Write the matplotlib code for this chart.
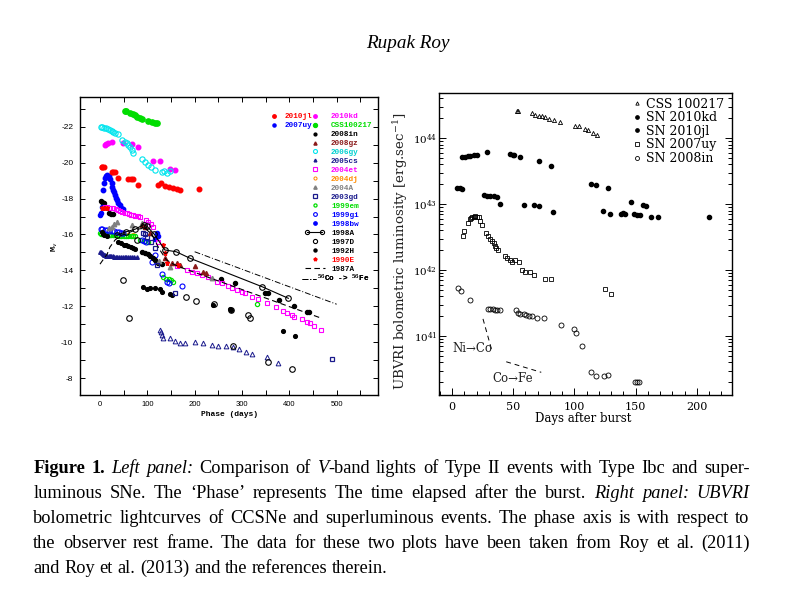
import numpy as np
import matplotlib
matplotlib.use('Agg')
import matplotlib.pyplot as plt
from matplotlib.legend_handler import HandlerLine2D

plt.rcParams['font.family'] = ['DejaVu Serif']
plt.rcParams['mathtext.fontset'] = 'dejavuserif'

# ---------------- LEFT PANEL DATA (phase [days], M_V) ----------------
css100217_d = [52.8, 55, 63.4, 69, 73.9, 78.9, 84.5, 88, 100.7, 109.2, 116.2, 119.8]
css100217_m = [-22.87, -22.85, -22.78, -22.71, -22.63, -22.56, -22.48, -22.43, -22.30, -22.24, -22.19, -22.22]

sn2006gy_d = [1.4, 4.5, 8.5, 13, 17.6, 21, 24.6, 28, 31.7, 38.7, 45.8, 52, 56.3, 60, 63.4, 66.9, 70.4,
              88, 95, 102, 108, 116.2, 130.3, 135, 140.8, 147.9]
sn2006gy_m = [-21.97, -21.96, -21.94, -21.90, -21.85, -21.82, -21.78, -21.72, -21.67, -21.58, -21.26, -21.15,
              -21.08, -20.98, -20.89, -20.70, -20.52, -20.20, -20.05, -19.87, -19.75, -19.59, -19.50, -19.55,
              -19.44, -19.55]

sn2010kd_d = [10.6, 13, 17.6, 26, 49.3, 66.9, 81, 112.7, 126.8, 147.9, 158.5]
sn2010kd_m = [-20.98, -21.02, -21.08, -21.17, -21.11, -21.02, -20.85, -20.11, -20.09, -19.63, -19.59]

sn2010jl_d = [3.5, 5, 8.5, 24.6, 28, 31.7, 38.7, 59.9, 65, 70.4, 81, 121.8, 128.2, 137.3, 145.8, 153.5,
              162, 169, 209.8]
sn2010jl_m = [-19.77, -19.75, -19.74, -19.50, -19.48, -19.46, -19.13, -19.09, -19.08, -19.07, -18.76, -18.76,
              -18.85, -18.70, -18.66, -18.61, -18.52, -18.48, -18.53]

sn1998bw_d = [5.6, 8.5, 10.6, 13, 15.5, 18, 21, 24.6, 26, 28.2, 30, 31.7, 34, 36.6, 39, 42.3, 45, 49.3]
sn1998bw_m = [-18.48, -18.85, -19.13, -19.25, -19.31, -19.25, -19.10, -18.85, -18.65, -18.48, -18.35,
              -18.20, -18.05, -17.92, -17.78, -17.64, -17.50, -17.40]

sn2007uy_d = [0, 1.4, 3.5, 116, 120, 123]
sn2007uy_m = [-17.09, -17.18, -17.55, -15.73, -16.07, -15.92]

sn2004et_d = [10.6, 14, 18, 22, 28.2, 33, 38, 42.3, 47, 52, 56.3, 61, 66, 70.4, 75, 80, 84.5, 97.2, 102,
              107, 111.3, 122, 163.4, 183, 193.7, 204, 215, 229, 246.5, 257, 271, 278, 289, 299, 306,
              320.5, 334.5, 352, 372, 387, 395.8, 405, 410, 426, 436.7, 443.7, 452, 466]
sn2004et_m = [-17.55, -17.52, -17.50, -17.48, -17.46, -17.40, -17.35, -17.31, -17.25, -17.20, -17.18,
              -17.14, -17.11, -17.09, -17.05, -17.02, -16.99, -16.81, -16.68, -16.59, -16.44, -15.60,
              -14.25, -14.03, -13.93, -13.84, -13.75, -13.65, -13.37, -13.32, -13.13, -13.05, -12.91,
              -12.82, -12.73, -12.54, -12.39, -12.21, -11.98, -11.74, -11.65, -11.52, -11.43, -11.28,
              -11.15, -11.06, -10.91, -10.69]

sn2008in_d = [3.5, 6, 9, 14, 39, 45, 50, 55, 60, 65, 70, 74, 91.6, 98.6, 105.6, 116.2, 126.8, 130.3,
              148, 151.5, 239.5, 274.7, 277, 387.4, 413]
sn2008in_m = [-16.16, -16.05, -15.95, -15.92, -15.60, -15.50, -15.42, -15.40, -15.35, -15.30, -15.25,
              -15.20, -13.10, -12.95, -13.00, -13.00, -12.95, -12.82, -12.69, -12.63, -12.08, -11.84,
              -11.80, -10.65, -10.37]

sn1992h_d = [1.4, 5, 8, 20, 24, 28, 88, 95, 101, 105, 112, 116, 123, 130, 255.6, 285, 348.6, 355, 379,
             410, 438, 441]
sn1992h_m = [-17.88, -17.80, -17.75, -17.20, -17.15, -17.12, -15.04, -14.95, -14.90, -14.80, -14.68,
             -14.60, -14.40, -14.35, -13.51, -13.29, -12.73, -12.72, -12.36, -12.02, -11.71, -11.68]

sn1998a_d = [35, 55, 75, 92, 99, 115, 137, 161, 190, 342, 398]
sn1998a_m = [-15.95, -16.15, -16.30, -16.55, -16.47, -16.00, -15.14, -15.04, -14.68, -13.10, -12.45]

sn1987a_d = [0, 8, 15, 21, 32, 45, 60, 80, 95, 110, 125, 140, 155, 176, 468]
sn1987a_m = [-14.35, -14.65, -14.90, -15.30, -15.70, -15.95, -16.10, -16.30, -16.35, -16.00, -15.20,
             -14.60, -14.35, -14.12, -11.34]

co56_d = [200, 500]
co56_m = [-15.04, -12.12]

sn1997d_d = [48, 62, 77.5, 182, 203, 240, 276, 280, 313, 316, 356, 405]
sn1997d_m = [-13.47, -11.37, -15.69, -12.54, -12.32, -12.12, -11.80, -9.80, -11.52, -11.35, -8.92, -8.52]

sn1990e_d = [5, 10, 15, 134, 137, 142, 165]
sn1990e_m = [-17.50, -17.48, -17.45, -15.41, -14.95, -14.43, -14.30]

sn2008gz_d = [88, 95, 105.6, 137.3, 151.5, 162, 169, 200.7, 218.3, 224]
sn2008gz_m = [-16.53, -16.44, -16.07, -14.68, -14.43, -14.40, -14.30, -14.25, -13.93, -13.84]

sn2005cs_plat_d = [0, 2, 4, 6, 8, 10, 12, 15, 18, 21, 24, 27, 30, 33, 36, 40, 44, 48, 52, 56, 60, 64,
                   68, 72, 77.5]
sn2005cs_plat_m = [-15.00, -15.02, -14.95, -14.90, -14.87, -14.85, -14.83, -14.81, -14.80, -14.79,
                   -14.78, -14.78, -14.77, -14.77, -14.77, -14.77, -14.77, -14.76, -14.76, -14.77,
                   -14.77, -14.77, -14.77, -14.76, -14.77]
sn2005cs_neb_d = [126.8, 128, 130, 134, 148, 158.5, 169, 179.6, 200.7, 218.3, 236, 250, 266, 280.4,
                  294.4, 308.5, 320.5, 353.6, 376.7]
sn2005cs_neb_m = [-10.69, -10.60, -10.41, -10.22, -10.22, -10.09, -9.98, -9.94, -10.03, -9.94, -9.85,
                  -9.79, -9.79, -9.76, -9.61, -9.48, -9.35, -9.17, -8.83]

sn2003gd_d = [91.6, 95, 98.6, 108, 116, 121, 158.5, 491]
sn2003gd_m = [-16.10, -16.00, -15.88, -15.60, -15.23, -14.30, -12.77, -9.06]

sn2004a_d = [20, 24.6, 30, 35, 67, 88, 125, 148, 236]
sn2004a_m = [-16.35, -16.44, -16.60, -16.71, -16.53, -16.62, -14.50, -14.21, -13.56]

sn1999em_d = [0, 3, 6, 9, 12, 15, 18, 21, 24, 27, 30, 35, 40, 45, 50, 55, 60, 65, 70, 75, 84.5, 95, 102,
              134, 140, 145, 150, 155, 331]
sn1999em_m = [-16.07, -16.05, -16.03, -16.02, -16.00, -15.99, -15.98, -15.97, -15.96, -15.95, -15.95,
              -15.95, -15.94, -15.93, -15.93, -15.93, -15.92, -15.92, -15.92, -15.90, -15.70, -15.65,
              -15.60, -13.62, -13.55, -13.50, -13.45, -13.37, -12.12]

sn1999gi_d = [1.4, 5, 10, 15, 20, 25, 30, 35, 40, 45, 49.3, 88, 93, 98, 109, 116, 130.3, 142, 146, 172.6]
sn1999gi_m = [-16.29, -16.28, -16.26, -16.25, -16.22, -16.20, -16.18, -16.15, -16.12, -16.10, -16.07,
              -15.69, -15.62, -15.56, -14.49, -14.86, -13.80, -13.37, -13.30, -13.13]

sn2004dj_d = [60, 70]
sn2004dj_m = [-15.98, -15.97]

# legend labels (left panel)
left_col1_labels = ['2010jl', '2007uy']
left_col2_labels = ['2010kd', 'CSS100217', '2008in', '2008gz', '2006gy', '2005cs', '2004et', '2004dj',
                    '2004A', '2003gd', '1999em', '1999gi', '1998bw', '1998A', '1997D', '1992H', '1990E',
                    '1987A']
co_label = r'$^{56}$Co -> $^{56}$Fe'
left_xticks = [0, 100, 200, 300, 400, 500]
left_yticks = [-22, -20, -18, -16, -14, -12, -10, -8]

# ---------------- RIGHT PANEL DATA (days, log10 L [erg/s]) ----------------
css_d = [52.8, 54.2, 65.3, 68, 70.7, 73.5, 76.2, 78.9, 83, 88.4, 100.7, 103.4, 108.8, 111.5, 115.1, 118.4]
css_logL = [44.41, 44.41, 44.38, 44.35, 44.34, 44.33, 44.32, 44.29, 44.28, 44.25, 44.18, 44.18, 44.14,
            44.12, 44.08, 44.05]
kd_d = [8.2, 10.9, 12.7, 14.9, 17.6, 20.4, 28.6, 47.6, 49.8, 50.9, 55.8, 71.3, 81, 113.5, 117.8, 127.8,
        146.1, 155.9, 158.4]
kd_logL = [43.71, 43.72, 43.73, 43.73, 43.74, 43.75, 43.79, 43.76, 43.75, 43.74, 43.71, 43.66, 43.58,
           43.30, 43.29, 43.25, 43.04, 42.99, 42.97]
jl_d = [4.1, 6.3, 8.2, 26.4, 28.6, 31.3, 34, 36.7, 39.4, 58.5, 66.6, 70.7, 82.1, 123.2, 128.7, 137.9,
        140.1, 141.5, 148.3, 151, 153.7, 162.7, 168.7, 210.3]
jl_logL = [43.25, 43.24, 43.23, 43.14, 43.13, 43.12, 43.12, 43.11, 43.00, 42.98, 42.98, 42.97, 42.88,
           42.89, 42.85, 42.85, 42.86, 42.85, 42.85, 42.83, 42.83, 42.81, 42.80, 42.81]
uy_d = [9, 10, 12.7, 14.4, 15.5, 16.6, 17.6, 19, 20.4, 21.7, 23.1, 24.7, 28, 29.1, 31.3, 32.7, 34, 35.3,
        36.2, 37.2, 43.5, 44.9, 47.6, 49, 51.7, 54.4, 57.1, 59.8, 63.9, 66.6, 75.6, 81.1, 124.6, 129.8]
uy_logL = [42.52, 42.59, 42.72, 42.77, 42.79, 42.80, 42.81, 42.82, 42.81, 42.80, 42.75, 42.68, 42.56,
           42.52, 42.47, 42.44, 42.41, 42.37, 42.33, 42.30, 42.21, 42.18, 42.16, 42.13, 42.16, 42.12,
           42.00, 41.97, 41.97, 41.93, 41.87, 41.87, 41.72, 41.64]
in_d = [4.6, 7.6, 14.4, 29.1, 31.3, 33.1, 35.3, 36.7, 38.9, 52.5, 53.6, 55.8, 58.5, 60.7, 62.6, 65.3,
        69.4, 74.8, 89.2, 99.3, 101.5, 106.6, 113.5, 117.8, 123.8, 127.3, 149.6, 151.5, 152.9]
in_logL = [41.73, 41.69, 41.55, 41.41, 41.41, 41.41, 41.40, 41.39, 41.40, 41.40, 41.35, 41.33, 41.33,
           41.32, 41.31, 41.30, 41.28, 41.27, 41.17, 41.11, 41.05, 40.85, 40.45, 40.39, 40.40, 40.41,
           40.31, 40.30, 40.30]
nico_d = [25.3, 32.7]
nico_logL = [41.26, 40.77]
cofe_d = [44.3, 72.9]
cofe_logL = [40.61, 40.45]
right_labels = ['CSS 100217', 'SN 2010kd', 'SN 2010jl', 'SN 2007uy', 'SN 2008in']
right_xticks = [0, 50, 100, 150, 200]
right_yticks_exp = [41, 42, 43, 44]

# ---------------- FIGURE ----------------
W, H = 789, 590
fig = plt.figure(figsize=(W / 100, H / 100), dpi=100)


def fx(px):
    return px / W


def fy(py):
    return 1 - py / H


axL = fig.add_axes([fx(80.3), fy(395), (378.3 - 80.3) / W, (395 - 97) / H])
axR = fig.add_axes([fx(439.3), fy(395), (732.3 - 439.3) / W, (395 - 92.7) / H])

RED, BLUE, MAG, GRN, CYA = '#ff0000', '#0000ff', '#ff00ff', '#00dd00', '#00e5ee'
NAVY, BRN, ORG, GRY = '#1a1a8c', '#8b1a1a', '#ff8c00', '#808080'


def pts(ax, d, m, **kw):
    return ax.plot(d, m, ls='none', **kw)[0]


L = {}
L['2004dj'] = pts(axL, sn2004dj_d, sn2004dj_m, marker='o', mfc='none', mec=ORG, ms=3, mew=0.7)
L['2005cs'] = pts(axL, sn2005cs_plat_d, sn2005cs_plat_m, marker='^', color=NAVY, ms=2.6)
pts(axL, sn2005cs_neb_d, sn2005cs_neb_m, marker='^', mfc='none', mec=NAVY, ms=3.4, mew=0.7)
L['1999em'] = pts(axL, sn1999em_d, sn1999em_m, marker='o', color=GRN, mfc='none', ms=3.0, mew=0.9)
L['1999gi'] = pts(axL, sn1999gi_d, sn1999gi_m, marker='o', mfc='none', mec=BLUE, ms=3.6, mew=0.8)
L['2008in'] = pts(axL, sn2008in_d, sn2008in_m, marker='o', color='k', ms=2.7)
L['1992H'] = pts(axL, sn1992h_d, sn1992h_m, marker='o', color='k', ms=2.9)
L['1998bw'] = pts(axL, sn1998bw_d, sn1998bw_m, marker='o', color=BLUE, ms=3.2)
L['2007uy'] = pts(axL, sn2007uy_d, sn2007uy_m, marker='o', color=BLUE, ms=3.0)
L['2004et'] = pts(axL, sn2004et_d, sn2004et_m, marker='s', mfc='none', mec=MAG, ms=3.4, mew=0.8)
L['2010jl'] = pts(axL, sn2010jl_d, sn2010jl_m, marker='o', color=RED, ms=3.3)
L['2010kd'] = pts(axL, sn2010kd_d, sn2010kd_m, marker='o', color=MAG, ms=3.3)
L['2006gy'] = pts(axL, sn2006gy_d, sn2006gy_m, marker='o', mfc='none', mec=CYA, ms=3.8, mew=0.8)
L['CSS100217'] = pts(axL, css100217_d, css100217_m, marker='o', color=GRN, ms=3.8)
L['2004A'] = pts(axL, sn2004a_d, sn2004a_m, marker='^', color=GRY, ms=3.2)
L['2003gd'] = pts(axL, sn2003gd_d, sn2003gd_m, marker='s', mfc='none', mec=NAVY, ms=3.4, mew=0.9)
L['2008gz'] = pts(axL, sn2008gz_d, sn2008gz_m, marker='^', color=BRN, ms=3.0)
L['1990E'] = pts(axL, sn1990e_d, sn1990e_m, marker='*', color=RED, ms=3.6)
L['1997D'] = pts(axL, sn1997d_d, sn1997d_m, marker='o', mfc='none', mec='k', ms=4.0, mew=0.8)
L['1998A'] = axL.plot(sn1998a_d, sn1998a_m, '-', color='k', lw=0.8, marker='o', mfc='none', mec='k',
                      ms=4.0, mew=0.8)[0]
L['1987A'] = axL.plot(sn1987a_d, sn1987a_m, color='k', lw=0.8, dashes=(5, 3))[0]
L['co'] = axL.plot(co56_d, co56_m, color='k', lw=0.7, dashes=(6, 2, 1, 2))[0]

axL.set_xlim(-41.6, 588)
axL.set_ylim(-7.07, -23.65)
axL.set_xticks(left_xticks)
axL.set_xticklabels([str(v) for v in left_xticks], fontfamily='Liberation Sans', fontsize=5.5)
axL.set_xticks(np.arange(-0, 600, 50), minor=True)
axL.set_yticks(left_yticks)
axL.set_yticklabels([str(v) for v in left_yticks], fontfamily='Liberation Sans', fontsize=6)
axL.set_yticks(np.arange(-23, -7, 1), minor=True)
axL.tick_params(which='both', direction='in', top=True, right=True, length=3.6, width=0.7)
axL.tick_params(axis='x', pad=4.0)
axL.tick_params(axis='y', pad=5.0)
for s in axL.spines.values():
    s.set_linewidth(1.0)
axL.set_xlabel('Phase (days)', fontfamily='Liberation Mono', fontweight='bold', fontsize=5.8)
axL.xaxis.set_label_coords(0.5, -0.065)
axL.xaxis.label.set_va('center')
axL.set_ylabel(r'M$_v$', fontfamily='Liberation Mono', fontweight='bold', fontsize=6)
axL.yaxis.set_label_coords(-0.085, 0.497)
axL.yaxis.label.set_va('center')


class RightMarker(HandlerLine2D):
    def get_xdata(self, legend, xdescent, ydescent, width, height, fontsize):
        xdata = np.array([-xdescent, -xdescent + width])
        xm = np.array([-xdescent + width - 0.3 * fontsize])
        return xdata, xm


lprop = {'family': 'Liberation Mono', 'weight': 'bold', 'size': 5.5}
legend_colors = {'2010jl': RED, '2007uy': BLUE, '2010kd': MAG, 'CSS100217': GRN, '2008in': 'k',
                 '2008gz': BRN, '2006gy': '#00d0d0', '2005cs': NAVY, '2004et': MAG, '2004dj': ORG,
                 '2004A': GRY, '2003gd': NAVY, '1999em': GRN, '1999gi': BLUE, '1998bw': BLUE,
                 '1998A': 'k', '1997D': 'k', '1992H': 'k', '1990E': RED, '1987A': 'k'}


def ax_x(px):
    return (px - 80.3) / 298.0


def ax_y(py):
    return (395 - py) / 298.0


def make_leg(labels, anchor, hl, hp, extra_map=None):
    hm = {matplotlib.lines.Line2D: RightMarker()}
    if extra_map:
        hm.update(extra_map)
    leg = axL.legend([L[k] for k in labels], labels, loc='upper left', bbox_to_anchor=anchor,
                     bbox_transform=axL.transAxes, frameon=False, prop=lprop, handlelength=hl,
                     handletextpad=hp, labelspacing=0.21, borderaxespad=0, borderpad=0,
                     numpoints=1, markerscale=0.75, handler_map=hm)
    for t, k in zip(leg.get_texts(), labels):
        t.set_color(legend_colors.get(k, 'k'))
    axL.add_artist(leg)
    return leg


fs_px = 5.5 * 100 / 72
make_leg(left_col1_labels, (ax_x(284.3 - 1.85 * fs_px), ax_y(113.0)), 1.0, 0.85)
make_leg(left_col2_labels, (ax_x(331 - 3.45 * fs_px), ax_y(113.0)), 2.6, 0.85,
         {L['1998A']: HandlerLine2D(numpoints=2)})
legc = axL.legend([L['co']], [co_label], loc='upper left', bbox_to_anchor=(ax_x(301.7), ax_y(273.2)),
                  bbox_transform=axL.transAxes, frameon=False, prop=lprop, handlelength=1.85,
                  handletextpad=0.2, borderaxespad=0, borderpad=0)
axL.add_artist(legc)

# ---------------- RIGHT PANEL ----------------
R = {}
R['CSS 100217'] = axR.plot(css_d, 10 ** np.array(css_logL), ls='none', marker='^', mfc='none', mec='k',
                           ms=3.0, mew=0.6)[0]
R['SN 2010kd'] = axR.plot(kd_d, 10 ** np.array(kd_logL), ls='none', marker='o', color='k', ms=3.0)[0]
R['SN 2010jl'] = axR.plot(jl_d, 10 ** np.array(jl_logL), ls='none', marker='o', color='k', ms=3.0)[0]
R['SN 2007uy'] = axR.plot(uy_d, 10 ** np.array(uy_logL), ls='none', marker='s', mfc='none', mec='k',
                          ms=3.0, mew=0.6)[0]
R['SN 2008in'] = axR.plot(in_d, 10 ** np.array(in_logL), ls='none', marker='o', mfc='none', mec='k',
                          ms=3.6, mew=0.6)[0]
axR.plot(nico_d, 10 ** np.array(nico_logL), color='k', lw=0.7, dashes=(5, 4))
axR.plot(cofe_d, 10 ** np.array(cofe_logL), color='k', lw=0.7, dashes=(5, 4))
axR.text(0.3, 10 ** 40.81, 'Ni\u2192Co', ha='left', va='center', fontsize=8.5, color='#222222')
axR.text(49.5, 10 ** 40.35, 'Co\u2192Fe', ha='center', va='center', fontsize=8.5, color='#222222')

axR.set_yscale('log')
axR.set_xlim(-10.4, 229)
axR.set_ylim(10 ** 40.106, 10 ** 44.69)
axR.set_xticks(right_xticks)
axR.set_xticklabels([str(v) for v in right_xticks], fontsize=8)
axR.set_xticks(np.arange(-10, 230, 10), minor=True)
axR.set_yticks([10.0 ** e for e in right_yticks_exp])
axR.set_yticklabels([r'10$^{%d}$' % e for e in right_yticks_exp], fontsize=7.5)
axR.set_yticks([k * 10.0 ** e for e in range(40, 45) for k in range(2, 10)
                if 10 ** 40.106 < k * 10.0 ** e < 10 ** 44.69], minor=True)
axR.tick_params(which='both', direction='in', top=False, right=True, width=0.7)
axR.tick_params(which='major', length=5.0)
axR.tick_params(which='minor', length=2.8, labelleft=False)
axR.tick_params(axis='x', pad=5)
axR.tick_params(axis='y', pad=1.5)
for s in axR.spines.values():
    s.set_linewidth(1.0)
axR.set_xlabel('Days after burst', fontsize=8.5)
axR.xaxis.set_label_coords(0.49, -0.077)
axR.xaxis.label.set_va('center')
axR.set_ylabel(r'UBVRI bolometric luminosity [erg.sec$^{-1}$]', fontsize=9.6, color='#222222')
axR.yaxis.set_label_coords(-0.132, 0.475)
axR.yaxis.label.set_va('center')

rleg = axR.legend([R[k] for k in right_labels], right_labels, loc='upper left',
                  bbox_to_anchor=((633.5 - 439.3) / 293, (395 - 97.5) / 302.3),
                  bbox_transform=axR.transAxes, frameon=False, prop={'family': 'DejaVu Serif', 'size': 9},
                  handlelength=0.6, handletextpad=0.37, labelspacing=0.05, borderaxespad=0, borderpad=0,
                  numpoints=1, markerscale=0.8)

# ---------------- TITLE & CAPTION ----------------
fig.text(fx(408), fy(48.3), 'Rupak Roy', ha='center', va='baseline', style='italic',
         family='Liberation Serif', fontsize=13.8)

caption_lines = [
    "**Figure 1.** *Left panel:* Comparison of *V*-band lights of Type II events with Type Ibc and super-",
    "luminous SNe. The \u2018Phase\u2019 represents The time elapsed after the burst. *Right panel: UBVRI*",
    "bolometric lightcurves of CCSNe and superluminous events. The phase axis is with respect to",
    "the observer rest frame. The data for these two plots have been taken from Roy et al. (2011)",
    "and Roy et al. (2013) and the references therein.",
]
caption_baselines = [473, 498, 523, 548, 573]


def parse(line):
    words, pieces, buf = [], [], ''
    bold = ital = False
    i = 0
    while i < len(line):
        if line.startswith('**', i):
            if buf:
                pieces.append((buf, bold, ital))
                buf = ''
            bold = not bold
            i += 2
            continue
        c = line[i]
        if c == '*':
            if buf:
                pieces.append((buf, bold, ital))
                buf = ''
            ital = not ital
            i += 1
            continue
        if c == ' ':
            if buf:
                pieces.append((buf, bold, ital))
                buf = ''
            if pieces:
                words.append(pieces)
                pieces = []
            i += 1
            continue
        buf += c
        i += 1
    if buf:
        pieces.append((buf, bold, ital))
    if pieces:
        words.append(pieces)
    return words


renderer = fig.canvas.get_renderer()
CAP_FS = 13.2
X0, X1 = 33.3, 749.5


def mk(txt, bold, ital):
    return fig.text(0, 0, txt, fontsize=CAP_FS, family='Liberation Serif',
                    weight='bold' if bold else 'normal', style='italic' if ital else 'normal',
                    va='baseline', ha='left')


tmp1 = mk('a a', False, False)
tmp2 = mk('aa', False, False)
space_w = tmp1.get_window_extent(renderer).width - tmp2.get_window_extent(renderer).width
tmp1.remove()
tmp2.remove()

for li, (line, base) in enumerate(zip(caption_lines, caption_baselines)):
    words = parse(line)
    arts = []
    wwidths = []
    for w in words:
        wa = []
        tot = 0
        for (txt, b, it) in w:
            t = mk(txt, b, it)
            pw = t.get_window_extent(renderer).width
            wa.append((t, pw))
            tot += pw
        arts.append(wa)
        wwidths.append(tot)
    if li < len(caption_lines) - 1:
        gap = (X1 - X0 - sum(wwidths)) / (len(words) - 1)
    else:
        gap = space_w
    x = X0
    for wa, ww in zip(arts, wwidths):
        xx = x
        for t, pw in wa:
            t.set_position((fx(xx), fy(base)))
            xx += pw
        x += ww + gap

fig.savefig('out.png', dpi=100)
